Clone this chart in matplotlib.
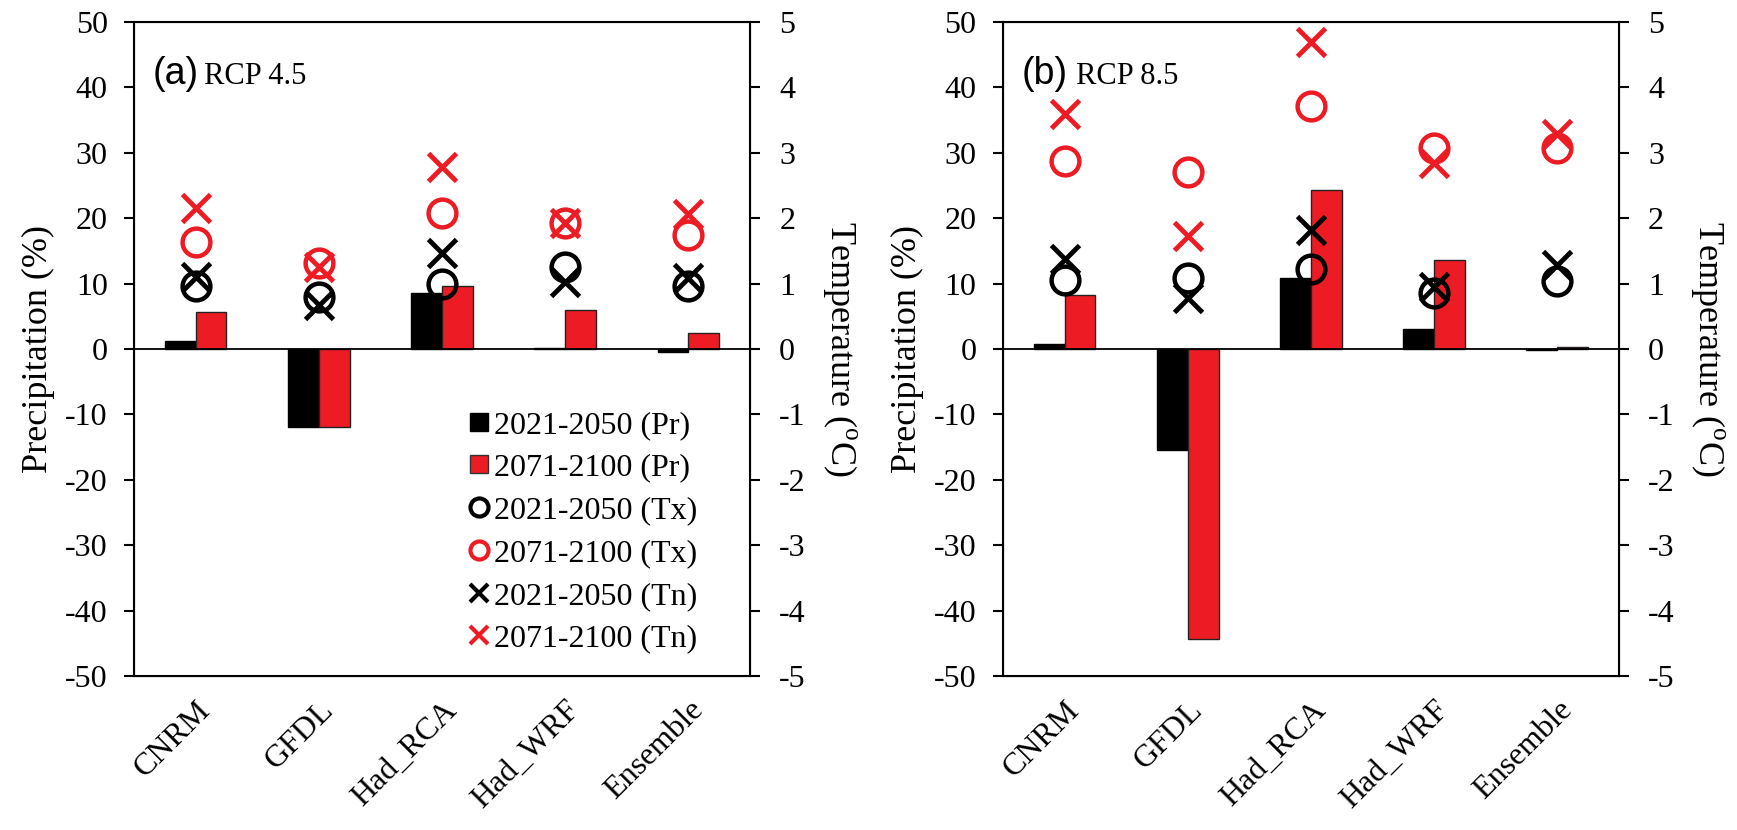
import numpy as np
import matplotlib
matplotlib.use("Agg")
import matplotlib.pyplot as plt
from matplotlib.lines import Line2D

plt.rcParams['font.family'] = ['Liberation Serif', 'DejaVu Serif']
plt.rcParams['mathtext.fontset'] = 'custom'
plt.rcParams['mathtext.rm'] = 'Liberation Serif'
plt.rcParams['axes.unicode_minus'] = False

models = ['CNRM', 'GFDL', 'Had_RCA', 'Had_WRF', 'Ensemble']

# RCP 4.5 : precipitation change (%) and temperature change (degC)
pr_near_45 = [1.3, -12.0, 8.6, 0.1, -0.5]
pr_far_45 = [5.6, -12.0, 9.7, 5.9, 2.4]
tx_near_45 = [0.97, 0.79, 1.0, 1.25, 0.97]
tx_far_45 = [1.63, 1.31, 2.08, 1.93, 1.74]
tn_near_45 = [1.1, 0.68, 1.47, 1.02, 1.09]
tn_far_45 = [2.16, 1.25, 2.78, 1.93, 2.07]

# RCP 8.5
pr_near_85 = [0.8, -15.5, 10.8, 3.1, -0.2]
pr_far_85 = [8.3, -44.4, 24.3, 13.6, 0.3]
tx_near_85 = [1.05, 1.08, 1.22, 0.85, 1.04]
tx_far_85 = [2.87, 2.71, 3.71, 3.07, 3.08]
tn_near_85 = [1.38, 0.78, 1.82, 0.95, 1.28]
tn_far_85 = [3.6, 1.73, 4.7, 2.84, 3.28]

legend_labels = ['2021-2050 (Pr)', '2071-2100 (Pr)', '2021-2050 (Tx)',
                 '2071-2100 (Tx)', '2021-2050 (Tn)', '2071-2100 (Tn)']

RED = '#ED1C24'
x = np.arange(len(models))
w = 0.25


def panel(ax, tag, rcp, pr1, pr2, tx1, tx2, tn1, tn2, legend=False):
    ax.bar(x - w / 2, pr1, w, color='black', edgecolor='black', lw=1, zorder=2)
    ax.bar(x + w / 2, pr2, w, color=RED, edgecolor='#222222', lw=1, zorder=2)
    ax.axhline(0, color='black', lw=1.3, zorder=3)
    ax.set_xlim(-0.5, 4.5)
    ax.set_ylim(-50, 50)
    ax.set_yticks(np.arange(-50, 51, 10))
    ax.set_xticks(x)
    ax.set_xticklabels(models, rotation=45, ha='right', rotation_mode='anchor', fontsize=23)
    ax.tick_params(axis='x', length=0, pad=14)
    ax.tick_params(axis='y', direction='out', length=7, width=1.5, labelsize=23, pad=12)
    ax.set_ylabel('Precipitation (%)', fontsize=26, labelpad=7)
    for s in ax.spines.values():
        s.set_linewidth(1.5)

    # temperature on the right axis
    ax2 = ax.twinx()
    ax2.set_ylim(-5, 5)
    ax2.set_yticks(np.arange(-5, 6, 1))
    ax2.tick_params(axis='y', direction='out', length=7, width=1.5, labelsize=23, pad=14)
    ax2.set_ylabel(r'Temperature ($^{\rm o}$C)', fontsize=26, rotation=270, labelpad=38)
    ms = 20
    ax2.plot(x, tx1, 'o', ms=ms, mfc='none', mec='black', mew=3.2, zorder=4)
    ax2.plot(x, tx2, 'o', ms=ms, mfc='none', mec=RED, mew=3.2, zorder=4)
    ax2.plot(x, tn1, 'x', ms=ms, mec='black', mew=3.5, zorder=4)
    ax2.plot(x, tn2, 'x', ms=ms, mec=RED, mew=3.5, zorder=4)

    ax.text(0.03, 0.905, tag, transform=ax.transAxes, fontsize=27, family='Liberation Sans',
            va='baseline')
    ax.text(0.113 if tag == '(a)' else 0.118, 0.905, rcp, transform=ax.transAxes,
            fontsize=22, va='baseline')

    if legend:
        handles = [
            Line2D([], [], ls='none', marker='s', ms=13, mfc='black', mec='black'),
            Line2D([], [], ls='none', marker='s', ms=13, mfc=RED, mec='#333333'),
            Line2D([], [], ls='none', marker='o', ms=13, mfc='none', mec='black', mew=3),
            Line2D([], [], ls='none', marker='o', ms=13, mfc='none', mec=RED, mew=3),
            Line2D([], [], ls='none', marker='x', ms=13, mec='black', mew=3),
            Line2D([], [], ls='none', marker='x', ms=13, mec=RED, mew=3),
        ]
        ax2.legend(handles, legend_labels, loc='lower right', bbox_to_anchor=(0.95, 0.0),
                   frameon=False, fontsize=23, handlelength=0.6, handletextpad=0.15,
                   labelspacing=0.42, borderpad=0.2)


fig = plt.figure(figsize=(17.37, 8.3), dpi=100)
ax_a = fig.add_axes([0.0772, 0.1855, 0.3546, 0.788])
ax_b = fig.add_axes([0.5774, 0.1855, 0.3546, 0.788])
panel(ax_a, '(a)', 'RCP 4.5', pr_near_45, pr_far_45, tx_near_45, tx_far_45,
      tn_near_45, tn_far_45, legend=True)
panel(ax_b, '(b)', 'RCP 8.5', pr_near_85, pr_far_85, tx_near_85, tx_far_85,
      tn_near_85, tn_far_85)

fig.savefig('out.png', dpi=100)
